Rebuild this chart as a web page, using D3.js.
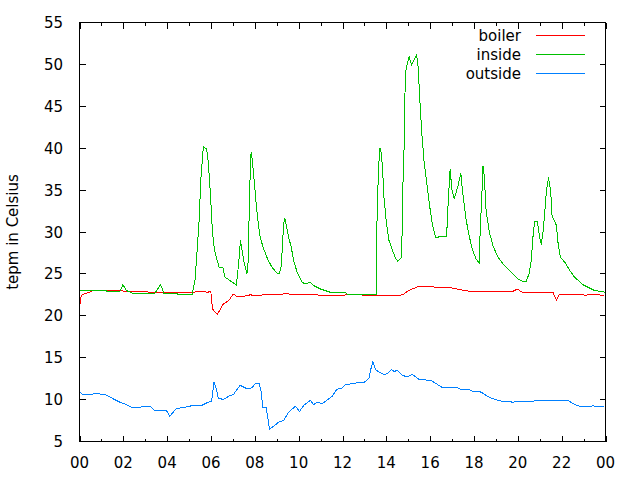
<!DOCTYPE html>
<html><head><meta charset="utf-8">
<script src="https://cdn.jsdelivr.net/npm/d3@7"></script>
<style>
body{margin:0;background:#fff}
svg{display:block}
text{font-family:"DejaVu Sans",sans-serif;font-size:15px;fill:#000}
</style>
</head><body>
<svg id="c" width="640" height="480"></svg>
<script>
const seriesNames = ["boiler", "inside", "outside"];
const yAxisTitle = "tepm in Celsius";
const xTickValues = [0, 2, 4, 6, 8, 10, 12, 14, 16, 18, 20, 22, 24];
const xTickLabels = ["00", "02", "04", "06", "08", "10", "12", "14", "16", "18", "20", "22", "00"];
const yTickValues = [5, 10, 15, 20, 25, 30, 35, 40, 45, 50, 55];

// [hour, temperature]
const boilerData = [
  [0.00, 20.95], [0.03, 21.6], [0.08, 22.4], [0.20, 22.6], [0.38, 22.75], [0.61, 23.0],
  [1.24, 23.0], [2.14, 22.95], [2.50, 22.85], [2.80, 22.9], [3.30, 22.8], [4.00, 22.8],
  [5.00, 22.8], [5.70, 22.9], [5.85, 22.8], [5.99, 22.95], [6.07, 20.8], [6.17, 20.5],
  [6.30, 20.2], [6.54, 21.35], [6.80, 21.8], [7.02, 22.6], [7.18, 22.3], [7.47, 22.3],
  [7.79, 22.5], [8.09, 22.4], [8.40, 22.5], [9.20, 22.5], [9.38, 22.7], [9.77, 22.5],
  [10.5, 22.5], [11.5, 22.45], [12.5, 22.5], [13.5, 22.45], [13.6, 22.4], [14.4, 22.4],
  [14.75, 22.5], [15.0, 23.0], [15.42, 23.45], [16.03, 23.45], [16.94, 23.35], [17.4, 23.1],
  [17.86, 22.9], [19.77, 22.9], [19.97, 23.2], [20.23, 22.75], [21.6, 22.8], [21.76, 21.9],
  [21.91, 22.6], [22.9, 22.6], [23.05, 22.45], [23.36, 22.55], [23.95, 22.45]
];

const insideData = [
  [0.00, 23.0], [1.24, 23.0], [1.26, 22.85], [1.83, 22.85], [1.98, 23.7], [2.15, 23.0],
  [2.43, 22.7], [3.44, 22.7], [3.70, 23.7], [3.85, 22.7], [4.44, 22.7], [4.49, 22.55],
  [5.14, 22.6], [5.27, 24.2], [5.35, 27.2], [5.45, 31.0], [5.54, 36.4], [5.65, 40.2],
  [5.80, 39.9], [5.88, 38.2], [5.99, 33.8], [6.06, 30.2], [6.15, 28.0], [6.26, 26.8],
  [6.37, 25.8], [6.54, 25.8], [6.64, 24.6], [6.87, 24.2], [7.15, 23.7], [7.20, 24.6],
  [7.30, 27.4], [7.34, 29.0], [7.42, 27.8], [7.51, 26.4], [7.64, 25.0], [7.71, 26.8],
  [7.75, 34.2], [7.83, 39.5], [7.89, 38.5], [7.97, 36.1], [8.06, 33.4], [8.14, 31.4],
  [8.24, 29.4], [8.40, 28.0], [8.58, 26.8], [8.78, 25.8], [9.01, 25.1], [9.13, 25.1],
  [9.21, 26.0], [9.31, 30.8], [9.36, 31.7], [9.44, 30.8], [9.54, 29.4], [9.66, 28.2],
  [9.77, 26.6], [9.93, 25.2], [10.15, 24.0], [10.31, 23.8], [10.53, 24.0], [10.69, 23.6],
  [10.99, 23.2], [11.45, 22.8], [12.14, 22.8], [12.22, 22.6], [13.53, 22.55], [13.55, 29.0],
  [13.64, 37.5], [13.71, 40.0], [13.75, 39.7], [13.82, 37.9], [13.89, 34.2], [14.00, 31.2],
  [14.12, 29.0], [14.28, 27.8], [14.43, 26.8], [14.53, 26.5], [14.70, 27.0], [14.75, 35.0],
  [14.81, 40.1], [14.85, 46.5], [14.90, 49.5], [15.04, 50.9], [15.15, 49.9], [15.30, 50.7],
  [15.38, 51.1], [15.45, 49.7], [15.53, 45.7], [15.62, 41.7], [15.72, 38.5], [15.85, 35.7],
  [15.97, 33.2], [16.11, 30.8], [16.26, 29.3], [16.49, 29.5], [16.75, 29.5], [16.82, 33.4],
  [16.91, 37.5], [16.99, 35.1], [17.10, 34.0], [17.25, 35.3], [17.40, 37.0], [17.48, 34.8],
  [17.63, 31.6], [17.79, 29.4], [17.94, 27.8], [18.09, 26.8], [18.23, 26.3], [18.29, 30.6],
  [18.35, 33.8], [18.41, 37.9], [18.47, 36.7], [18.55, 32.6], [18.70, 30.0], [18.86, 28.4],
  [19.09, 27.0], [19.39, 26.0], [19.70, 25.2], [20.00, 24.4], [20.23, 24.1], [20.38, 24.1],
  [20.51, 25.0], [20.61, 26.6], [20.69, 29.4], [20.76, 31.2], [20.89, 31.3], [20.99, 29.4],
  [21.07, 28.5], [21.15, 30.0], [21.22, 32.0], [21.30, 34.8], [21.40, 36.5], [21.50, 34.8],
  [21.56, 32.0], [21.65, 31.4], [21.76, 30.8], [21.83, 28.8], [21.94, 27.0], [22.14, 26.4],
  [22.37, 25.4], [22.59, 24.6], [22.98, 23.7], [23.28, 23.3], [23.51, 23.0], [23.89, 22.9],
  [23.97, 22.8]
];

const outsideData = [
  [0.00, 11.0], [0.15, 10.6], [0.54, 10.6], [0.73, 10.75], [1.22, 10.55], [1.53, 10.1],
  [1.83, 9.7], [2.14, 9.4], [2.37, 9.1], [2.75, 9.1], [3.21, 9.2], [3.44, 8.7],
  [3.97, 8.7], [4.12, 8.0], [4.40, 8.9], [4.81, 9.1], [5.19, 9.3], [5.57, 9.3],
  [5.88, 9.7], [6.03, 9.8], [6.14, 12.1], [6.22, 11.5], [6.33, 10.2], [6.56, 10.0],
  [6.87, 10.5], [7.02, 10.6], [7.33, 11.7], [7.64, 11.3], [7.86, 11.4], [8.02, 11.9],
  [8.20, 11.9], [8.31, 10.7], [8.35, 9.0], [8.52, 9.0], [8.67, 6.5], [8.85, 6.8],
  [9.08, 7.3], [9.31, 7.5], [9.54, 8.5], [9.85, 9.2], [10.04, 8.6], [10.23, 9.3],
  [10.53, 9.9], [10.69, 9.4], [10.84, 9.7], [11.07, 9.5], [11.53, 10.4], [11.73, 11.2],
  [11.99, 11.4], [12.14, 11.8], [12.44, 11.9], [12.67, 12.0], [12.95, 12.0], [13.20, 12.5],
  [13.28, 13.5], [13.39, 14.55], [13.51, 13.55], [13.66, 13.3], [13.89, 13.0], [14.05, 13.1],
  [14.23, 13.6], [14.35, 13.35], [14.51, 13.5], [14.73, 12.9], [14.96, 12.7], [15.19, 13.0],
  [15.50, 12.4], [16.03, 12.3], [16.34, 11.8], [16.57, 11.4], [17.03, 11.4], [17.18, 11.5],
  [17.41, 11.2], [17.79, 11.2], [17.94, 11.0], [18.32, 10.9], [18.55, 10.5], [18.78, 10.2],
  [19.09, 9.9], [19.31, 9.8], [19.77, 9.7], [20.30, 9.8], [21.60, 9.9], [22.29, 9.9],
  [22.52, 9.5], [22.82, 9.2], [23.36, 9.2], [23.44, 9.3], [23.51, 9.15], [23.94, 9.15]
];

const colors = ["#ff0000", "#00c000", "#0080ff"];
const allSeries = [boilerData, insideData, outsideData];

const svg = d3.select("#c");
const L = 79.5, R = 605.5, T = 22.5, B = 441.5;
const x = d3.scaleLinear().domain([0, 24]).range([L, R]);
const y = d3.scaleLinear().domain([5, 55]).range([B, T]);

const g = svg.append("g");
// major / minor ticks
const majorLen = 6, minorLen = 3;
const minorX = d3.range(1, 24, 2);
function vtick(xv, y0, len) {
  g.append("line").attr("x1", Math.round(x(xv)) + 0.5).attr("x2", Math.round(x(xv)) + 0.5)
    .attr("y1", y0).attr("y2", y0 + len).attr("stroke", "#000").attr("shape-rendering", "crispEdges");
}
xTickValues.forEach(v => { vtick(v, B, -majorLen); vtick(v, T, majorLen); });
minorX.forEach(v => { vtick(v, B, -minorLen); vtick(v, T, minorLen); });
yTickValues.forEach(v => {
  const yy = Math.round(y(v) - 0.5) + 0.5;
  g.append("line").attr("x1", L).attr("x2", L + majorLen).attr("y1", yy).attr("y2", yy)
    .attr("stroke", "#000").attr("shape-rendering", "crispEdges");
  g.append("line").attr("x1", R).attr("x2", R - majorLen).attr("y1", yy).attr("y2", yy)
    .attr("stroke", "#000").attr("shape-rendering", "crispEdges");
});

// tick labels
svg.append("g").selectAll("text").data(xTickValues).join("text")
  .attr("x", d => x(d)).attr("y", 468).attr("text-anchor", "middle")
  .text((d, i) => xTickLabels[i]);
svg.append("g").selectAll("text").data(yTickValues).join("text")
  .attr("x", 63).attr("y", d => y(d) + 5.5).attr("text-anchor", "end")
  .text(d => d);

// y axis title
svg.append("text").attr("transform", `translate(18,${(T + B) / 2}) rotate(-90)`)
  .attr("text-anchor", "middle").text(yAxisTitle);

// series
const line = d3.line().x(d => x(d[0])).y(d => y(d[1]));
allSeries.forEach((data, i) => {
  svg.append("path").datum(data).attr("d", line)
    .attr("fill", "none").attr("stroke", colors[i]).attr("stroke-width", 1)
    .attr("shape-rendering", "crispEdges");
});

// legend
seriesNames.forEach((name, i) => {
  const cy = 35.5 + i * 19;
  svg.append("text").attr("x", 521).attr("y", cy + 5.5).attr("text-anchor", "end").text(name);
  svg.append("line").attr("x1", 536).attr("x2", 585).attr("y1", cy).attr("y2", cy)
    .attr("stroke", colors[i]).attr("stroke-width", 1).attr("shape-rendering", "crispEdges");
});

// frame
svg.append("rect").attr("x", L).attr("y", T).attr("width", R - L).attr("height", B - T)
  .attr("fill", "none").attr("stroke", "#000").attr("shape-rendering", "crispEdges");
</script>
</body></html>
